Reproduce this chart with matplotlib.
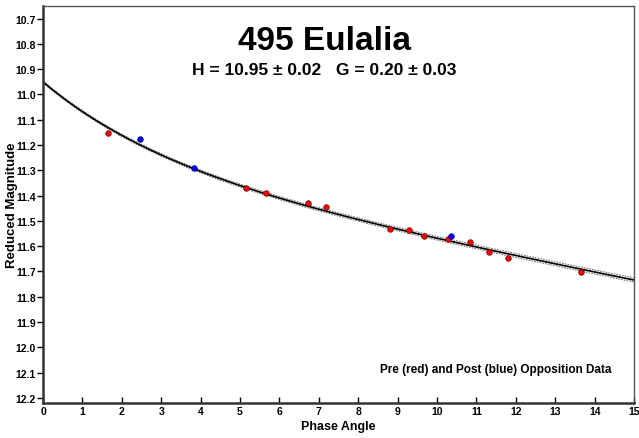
import numpy as np
import matplotlib
matplotlib.use("Agg")
import matplotlib.pyplot as plt

plt.rcParams['font.family'] = ['Liberation Sans', 'DejaVu Sans']

# observations: phase angle (deg) and reduced magnitude
preAngle = [1.66, 5.15, 5.66, 6.73, 7.19, 8.80, 9.28, 9.67, 10.27, 10.84, 11.33, 11.81, 13.66]
preMag = [11.154, 11.368, 11.389, 11.430, 11.446, 11.534, 11.537, 11.558, 11.572, 11.582, 11.624, 11.647, 11.701]
postAngle = [2.46, 3.82, 10.35]
postMag = [11.175, 11.289, 11.561]

# fitted H-G parameters
H, dH = 10.95, 0.02
G, dG = 0.20, 0.03
# spread of the drawn confidence band
bandH, bandG = 0.004, 0.004


def hg_mag(alpha, h, g):
    # Bowell et al. H-G system with the small-angle smoothing term
    a = np.radians(alpha)
    t = np.tan(a / 2)
    s = np.sin(a)
    w = np.exp(-90.56 * t ** 2)
    denom = 0.119 + 1.341 * s - 0.754 * s ** 2
    phi1 = w * (1 - 0.986 * s / denom) + (1 - w) * np.exp(-3.332 * t ** 0.631)
    phi2 = w * (1 - 0.238 * s / denom) + (1 - w) * np.exp(-1.862 * t ** 1.218)
    return h - 2.5 * np.log10((1 - g) * phi1 + g * phi2)


fig = plt.figure(figsize=(6.39, 4.39), dpi=100)
ax = fig.add_axes([0.0673, 0.080, 0.925, 0.904])

alpha = np.linspace(0, 15, 300)
ax.plot(alpha, hg_mag(alpha, H - bandH, G + bandG), color='#777777', linewidth=0.8, dashes=(1.5, 1))
ax.plot(alpha, hg_mag(alpha, H + bandH, G - bandG), color='#777777', linewidth=0.8, dashes=(1.5, 1))
ax.plot(alpha, hg_mag(alpha, H, G), color='black', linewidth=1.2)

ax.scatter(preAngle, preMag, s=16, color='red', edgecolors='#660000', linewidths=0.5, zorder=3)
ax.scatter(postAngle, postMag, s=16, color='blue', edgecolors='#000066', linewidths=0.5, zorder=3)

ax.set_xlim(0, 15)
ax.set_ylim(12.22, 10.65)
ax.set_xticks(range(0, 16))
ax.set_yticks(np.round(np.arange(10.7, 12.21, 0.1), 1))
ax.set_yticklabels([f"{v:.1f}" for v in np.arange(10.7, 12.21, 0.1)])
ax.tick_params(axis='x', direction='in', length=4, width=1, labelsize=7.5, pad=2)
ax.tick_params(axis='y', direction='out', length=4, width=1, labelsize=7.5, pad=1)
for lbl in ax.get_xticklabels() + ax.get_yticklabels():
    lbl.set_fontweight('bold')

for side in ['left', 'bottom']:
    ax.spines[side].set_linewidth(1.8)
    ax.spines[side].set_color('#333333')
for side in ['top', 'right']:
    ax.spines[side].set_linewidth(1.0)
    ax.spines[side].set_color('#555555')

ax.set_xlabel("Phase Angle", fontsize=9, fontweight='bold', labelpad=3)
ax.set_ylabel("Reduced Magnitude", fontsize=9.5, fontweight='bold')
ax.yaxis.set_label_coords(-0.042, 0.5)

fig.text(0.508, 0.905, "495 Eulalia", ha='center', va='center', fontsize=24, fontweight='bold')
fig.text(0.508, 0.84, "H = 10.95 ± 0.02   G = 0.20 ± 0.03", ha='center', va='center',
         fontsize=12.5, fontweight='bold')
ax.text(0.962, 0.085, "Pre (red) and Post (blue) Opposition Data", transform=ax.transAxes,
        ha='right', va='center', fontsize=8.5, fontweight='bold')

fig.savefig('out.png', dpi=100)
